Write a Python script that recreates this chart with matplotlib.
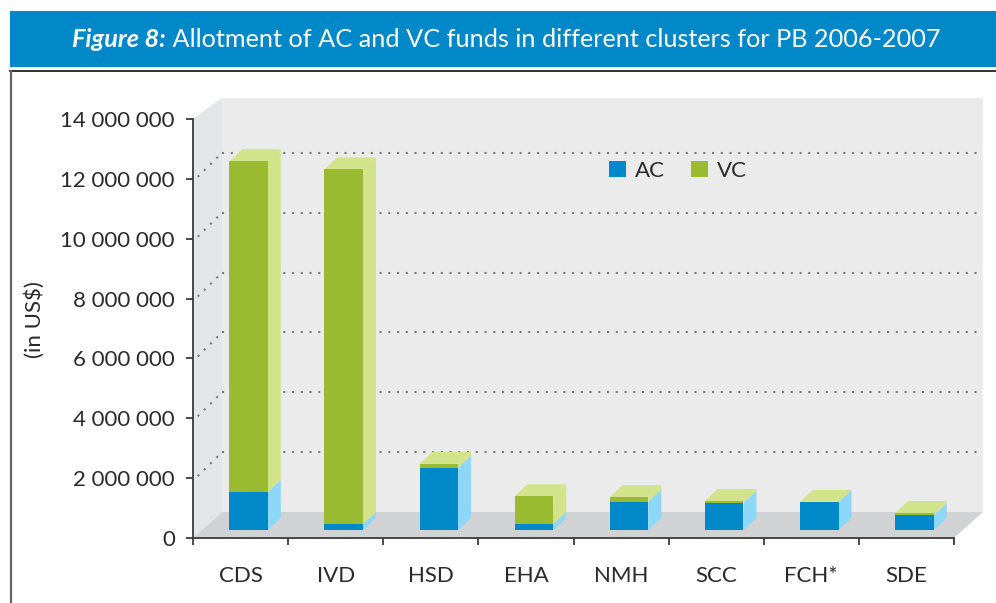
import numpy as np
import matplotlib.pyplot as plt
from matplotlib.patches import Polygon, Rectangle, Patch

plt.rcParams['font.family'] = ['Lato', 'DejaVu Sans']

# ── DATA ──
clusters = ['CDS', 'IVD', 'HSD', 'EHA', 'NMH', 'SCC', 'FCH*', 'SDE']
ac = [1.27e6, 0.20e6, 2.08e6, 0.20e6, 0.95e6, 0.91e6, 0.94e6, 0.50e6]
vc = [11.05e6, 11.85e6, 0.13e6, 0.93e6, 0.15e6, 0.06e6, 0.0, 0.07e6]
yticks = np.arange(0, 14e6 + 1, 2e6)
ytick_labels = ['0', '2 000 000', '4 000 000', '6 000 000', '8 000 000',
                '10 000 000', '12 000 000', '14 000 000']

# colours
ac_front, ac_side = '#0089c9', '#8dd8f8'
vc_front, vc_side = '#9aba32', '#d3e38b'
wall_back, wall_left, floor_c = '#ebebeb', '#e4e5e7', '#d1d2d4'
axis_c = '#3a3a3a'

W, H = 996, 603
fig = plt.figure(figsize=(W / 100, H / 100), dpi=100)

# background frame (banner + border) in pixel coords
bg = fig.add_axes([0, 0, 1, 1])
bg.set_xlim(0, W)
bg.set_ylim(H, 0)
bg.axis('off')
bg.add_patch(Rectangle((10, 11), W - 10, 56, color='#0088c8', lw=0))
bg.plot([10, W], [70.5, 70.5], color='#222222', lw=1.3)
bg.plot([11, 11], [71, H], color='#666666', lw=1.6)

t1 = bg.text(72, 51, 'Figure 8:', color='white', fontsize=18.2,
             fontweight='bold', fontstyle='italic', va='bottom', ha='left')
bg.annotate(' Allotment of AC and VC funds in different clusters for PB 2006-2007',
            xy=(1, 0), xycoords=t1, color='white', fontsize=18.2,
            va='bottom', ha='left')

# ── MAIN CHART ──
px_cat = 95.125          # pixels per category
px_val = 29.93 / 1e6     # pixels per US$
x0_px, y0_px = 193, 538  # origin of the axes in pixels
right_px, top_px = 990, 95

ax = fig.add_axes([x0_px / W, (H - y0_px) / H,
                   (right_px - x0_px) / W, (y0_px - top_px) / H])
ax.set_xlim(0, (right_px - x0_px) / px_cat)
ax.set_ylim(0, (y0_px - top_px) / px_val)
ax.patch.set_visible(False)


def dx(p):
    return p / px_cat


def dy(p):
    return p / px_val


n = len(clusters)
bx, by = dx(29), dy(26)           # depth of the floor / walls
wall_right = (983 - x0_px) / px_cat
wall_top = (y0_px - 98) / px_val

# walls and floor
ax.add_patch(Rectangle((bx, by), wall_right - bx, wall_top - by,
                       color=wall_back, lw=0, zorder=0))
ax.add_patch(Polygon([(0, 0), (bx, by), (bx, wall_top), (0, 14e6)],
                     color=wall_left, lw=0, zorder=0))
ax.add_patch(Polygon([(0, 0), (n, 0), (n + bx, by), (bx, by)],
                     color=floor_c, lw=0, zorder=0.5))

# dotted gridlines
for v in yticks[1:-1]:
    ax.plot([bx, wall_right], [by + v, by + v], color='#7a7a7a', lw=1.5,
            ls=(0, (1, 3.2)), zorder=1)
    ax.plot([0.05, bx], [v + dy(2), by + v], color='#7a7a7a', lw=1.5,
            ls=(0, (1, 3.2)), zorder=1)

# bars (front faces)
w = 38.5 / px_cat
xc = np.arange(n) + 0.5 + dx(8)
base = dy(8)
ax.bar(xc, ac, width=w, bottom=base, color=ac_front, lw=0, zorder=3)
ax.bar(xc, vc, width=w, bottom=base + np.array(ac), color=vc_front, lw=0, zorder=3)

# 3D sides and tops
ddx, ddy = dx(13), dy(12)
for i in range(n):
    xl, xr = xc[i] - w / 2, xc[i] + w / 2
    b0 = base
    for val, col in [(ac[i], ac_side), (vc[i], vc_side)]:
        b1 = b0 + val
        ax.add_patch(Polygon([(xr, b0), (xr + ddx, b0 + ddy), (xr + ddx, b1 + ddy), (xr, b1)],
                             color=col, lw=0, zorder=2))
        b0 = b1
    ax.add_patch(Polygon([(xl, b0), (xl + ddx, b0 + ddy), (xr + ddx, b0 + ddy), (xr, b0)],
                         color=vc_side, lw=0, zorder=2))

# axes styling
for s in ['top', 'right']:
    ax.spines[s].set_visible(False)
for s in ['left', 'bottom']:
    ax.spines[s].set_color(axis_c)
    ax.spines[s].set_linewidth(1.3)
ax.spines['left'].set_bounds(0, 14e6)
ax.spines['bottom'].set_bounds(0, n)

ax.set_yticks(yticks)
ax.set_yticklabels(ytick_labels)
ax.tick_params(axis='y', length=5, width=1.3, color=axis_c, pad=8,
               labelsize=16, labelcolor='#2a2a2a')
ax.set_xticks(np.arange(n + 1))
ax.set_xticklabels([])
ax.set_xticks(np.arange(n) + 0.5, minor=True)
ax.set_xticklabels(clusters, minor=True)
ax.tick_params(axis='x', which='major', length=5, width=1.3, color=axis_c)
ax.tick_params(axis='x', which='minor', length=0, pad=20,
               labelsize=16, labelcolor='#2a2a2a')

fig.text(35 / W, 1 - 320 / H, '(in US$)', rotation=90, fontsize=16,
         color='#2a2a2a', ha='center', va='center')

# legend
handles = [Patch(color=ac_front, lw=0), Patch(color=vc_front, lw=0)]
ax.legend(handles, ['AC', 'VC'], ncol=2, frameon=False, fontsize=16,
          loc='center left', bbox_to_anchor=(598 / W, 1 - 171 / H),
          bbox_transform=fig.transFigure, borderpad=0,
          handlelength=0.75, handleheight=0.75, handletextpad=0.4,
          columnspacing=1.2, labelcolor='#2a2a2a')

fig.savefig('out.png', dpi=100)
